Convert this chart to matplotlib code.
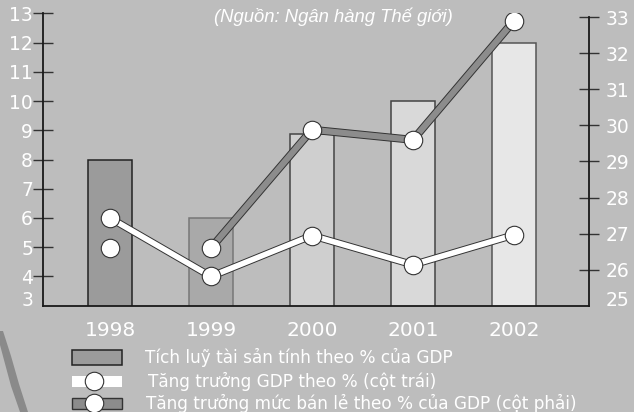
import matplotlib
matplotlib.use("Agg")
import matplotlib.pyplot as plt
import matplotlib.patheffects as pe
from matplotlib.patches import Rectangle, Polygon
from matplotlib.lines import Line2D
import numpy as np

# data
years = ["1998", "1999", "2000", "2001", "2002"]
tich_luy = [8.0, 6.0, 8.87, 10.0, 12.0]          # cot trai
gdp_growth = [6.0, 4.0, 5.4, 4.4, 5.42]          # cot trai
ban_le = [26.6, 26.6, 29.88, 29.6, 32.9]         # cot phai
bar_colors = ["#9b9b9b", "#a9a9a9", "#cfcfcf", "#d9d9d9", "#e7e7e7"]
bar_edges = ["#222222", "#777777", "#444444", "#444444", "#555555"]
left_ticks = list(range(4, 14))
right_ticks = list(range(26, 34))
legend_labels = ["Tích luỹ tài sản tính theo % của GDP",
                 "Tăng trưởng GDP theo % (cột trái)",
                 "Tăng trưởng mức bán lẻ theo % của GDP (cột phải)"]
source = "(Nguồn: Ngân hàng Thế giới)"

BG = "#bdbdbd"
W, H = 634, 412

fig = plt.figure(figsize=(W / 100, H / 100), dpi=100, facecolor=BG)

def fx(px):
    return px / W

def fy(py):
    return 1 - py / H

ax = fig.add_axes([fx(43), fy(305.7), fx(546), 292.4 / H])
ax.set_facecolor("none")
ax2 = ax.twinx()
ax2.set_facecolor("none")

x = np.arange(len(years))

# bars
ax.bar(x, tich_luy, width=0.44, color=bar_colors, edgecolor=bar_edges,
       linewidth=1.1, zorder=2)

ax.set_xlim(-0.663, 4.743)
ax.set_ylim(3, 13)
ax2.set_ylim(25, 33.11)

# white line, left axis
ax.plot(x, gdp_growth, color="white", lw=4, solid_capstyle="butt", zorder=3,
        path_effects=[pe.Stroke(linewidth=5.4, foreground="#333333"), pe.Normal()])
ax.plot(x, gdp_growth, ls="none", marker="o", ms=13.3, mfc="white",
        mec="#333333", mew=0.8, zorder=4)

# grey line, right axis (line starts at 1999)
ax2.plot(x[1:], ban_le[1:], color="#8c8c8c", lw=4.4, solid_capstyle="butt", zorder=3,
         path_effects=[pe.Stroke(linewidth=5.8, foreground="#333333"), pe.Normal()])
ax2.plot(x, ban_le, ls="none", marker="o", ms=13.3, mfc="white",
         mec="#333333", mew=0.8, zorder=4)

# spines
for a in (ax, ax2):
    a.spines["top"].set_visible(False)
    for s in ("left", "right", "bottom"):
        a.spines[s].set_color("#1a1a1a")
        a.spines[s].set_linewidth(1.3)
ax.spines["right"].set_visible(False)
ax2.spines["left"].set_visible(False)
ax2.spines["bottom"].set_visible(False)
ax2.spines["right"].set_bounds(25, 33)

# ticks
ax.set_xticks(x)
ax.set_xticklabels(years)
ax.tick_params(axis="x", length=0, pad=11, labelsize=14.5, labelcolor="white")

ax.set_yticks(left_ticks)
ax.set_yticklabels([str(t) for t in left_ticks])
ax.set_yticks([3], minor=True)
ax.set_yticklabels(["3"], minor=True)
ax.tick_params(axis="y", which="major", direction="inout", length=14.4, width=1,
               color="#333333", pad=0, labelsize=13.5, labelcolor="white")
ax.tick_params(axis="y", which="minor", length=0, pad=7.2, labelsize=13.5,
               labelcolor="white")

ax2.set_yticks(right_ticks)
ax2.set_yticklabels([str(t) for t in right_ticks])
ax2.set_yticks([25], minor=True)
ax2.set_yticklabels(["25"], minor=True)
ax2.tick_params(axis="y", which="major", direction="inout", length=14.4, width=1,
                color="#333333", pad=5, labelsize=13.5, labelcolor="white")
ax2.tick_params(axis="y", which="minor", length=0, pad=12.2, labelsize=13.5,
                labelcolor="white")
for lbl in ax.get_yticklabels(minor=True) + ax2.get_yticklabels(minor=True):
    lbl.set_va("baseline")

# source note
fig.text(fx(333.5), fy(17), source, ha="center", va="center", color="white",
         style="italic", family="Liberation Sans", size=13.3)

# decorative band bottom left
band = [(3, 331), (11, 356), (19, 384), (28, 412), (20, 412), (11, 386),
        (4, 360), (0, 345), (0, 331)]
fig.patches.append(Polygon([(fx(a), fy(b)) for a, b in band], closed=True,
                           transform=fig.transFigure, facecolor="#8a8a8a",
                           edgecolor="none"))

# legend
rows_y = [357.5, 381, 403]
fig.patches.append(Rectangle((fx(72), fy(365)), fx(50), 15 / H,
                             transform=fig.transFigure, facecolor="#9b9b9b",
                             edgecolor="#222222", lw=1.1))
fig.patches.append(Rectangle((fx(72), fy(386.5)), fx(50), 11 / H,
                             transform=fig.transFigure, facecolor="white",
                             edgecolor="none"))
fig.patches.append(Rectangle((fx(72), fy(408.5)), fx(50), 11 / H,
                             transform=fig.transFigure, facecolor="#8c8c8c",
                             edgecolor="#333333", lw=1))
for ry in rows_y[1:]:
    fig.add_artist(Line2D([fx(94)], [fy(ry)], transform=fig.transFigure,
                          ls="none", marker="o", ms=13.3, mfc="white",
                          mec="#333333", mew=0.8))
for lab, ry, lx in zip(legend_labels, rows_y, [145, 148, 146]):
    fig.text(fx(lx), fy(ry), lab, ha="left", va="center", color="white",
             size=12.2)

fig.savefig("out.png", dpi=100, facecolor=BG)
